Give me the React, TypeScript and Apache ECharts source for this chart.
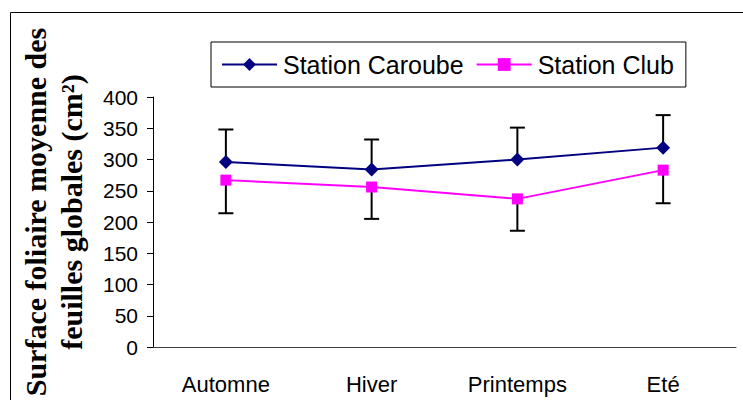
import React, { useEffect, useRef } from "react";
import * as echarts from "echarts";

const categories = ["Automne", "Hiver", "Printemps", "Eté"];
const caroubeName = "Station Caroube";
const clubName = "Station Club";
const caroubeValues = [296, 284, 300, 319];
const caroubeErrUp = [52, 48, 51, 52];
const clubValues = [267, 256, 237, 283];
const clubErrDown = [53, 51, 51, 53];
const yMin = 0;
const yMax = 400;
const yInterval = 50;
const yTitle = "Surface foliaire moyenne des\nfeuilles globales (cm²)";

export default function App() {
  const ref = useRef<HTMLDivElement>(null);
  useEffect(() => {
    const chart = echarts.init(ref.current!, null, { renderer: "svg" });
    const errRender = (dir: number) => (_params: any, api: any) => {
      const x = api.value(0);
      const v = api.value(1);
      const e = api.value(2);
      const p0 = api.coord([x, v]);
      const p1 = api.coord([x, v + dir * e]);
      const half = 7.5;
      return {
        type: "group",
        children: [
          { type: "line", shape: { x1: p0[0], y1: p0[1], x2: p1[0], y2: p1[1] }, style: { stroke: "#000", lineWidth: 2 } },
          { type: "line", shape: { x1: p1[0] - half, y1: p1[1], x2: p1[0] + half, y2: p1[1] }, style: { stroke: "#000", lineWidth: 2 } },
        ],
      };
    };
    chart.setOption({
      animation: false,
      backgroundColor: "#fff",
      graphic: [
        {
          type: "rect",
          silent: true,
          z: -10,
          shape: { x: 10.5, y: 12.5, width: 800, height: 500 },
          style: { fill: "none", stroke: "#000", lineWidth: 1 },
        },
        {
          type: "text",
          silent: true,
          x: 53,
          y: 212,
          rotation: Math.PI / 2,
          style: {
            text: yTitle,
            fontFamily: "Liberation Serif, Times New Roman",
            fontWeight: "bold",
            fontSize: 30,
            lineHeight: 36,
            fill: "#000",
            align: "center",
            verticalAlign: "middle",
          },
        },
      ],
      legend: {
        data: [caroubeName, clubName],
        left: 211,
        top: 42,
        padding: [10, 12, 10, 10],
        itemGap: 12,
        itemWidth: 55,
        itemHeight: 16,
        backgroundColor: "#fff",
        borderColor: "#000",
        borderWidth: 1,
        textStyle: { fontFamily: "Liberation Sans, Arial", fontSize: 25, color: "#000", padding: [0, 0, 0, 1] },
      },
      grid: { left: 153, right: 7, top: 97, bottom: 53, containLabel: false, outerBoundsMode: "none" },
      xAxis: {
        type: "category",
        data: categories,
        axisLine: { lineStyle: { color: "#404040", width: 1 } },
        axisTick: { length: 7, lineStyle: { color: "#404040" } },
        axisLabel: { fontFamily: "Liberation Sans, Arial", fontSize: 22, color: "#000", margin: 26 },
        splitLine: { show: false },
      },
      yAxis: {
        type: "value",
        min: yMin,
        max: yMax,
        interval: yInterval,
        axisLine: { show: true, lineStyle: { color: "#000", width: 1 } },
        axisTick: { show: true, length: 6, lineStyle: { color: "#000" } },
        axisLabel: { fontFamily: "Liberation Sans, Arial", fontSize: 21, color: "#000", margin: 15 },
        splitLine: { show: false },
      },
      series: [
        {
          name: "Erreur Caroube",
          type: "custom",
          z: 1,
          renderItem: errRender(1),
          data: caroubeValues.map((v, i) => [i, v, caroubeErrUp[i]]),
        },
        {
          name: "Erreur Club",
          type: "custom",
          z: 1,
          renderItem: errRender(-1),
          data: clubValues.map((v, i) => [i, v, clubErrDown[i]]),
        },
        {
          name: caroubeName,
          type: "line",
          z: 3,
          data: caroubeValues,
          symbol: "diamond",
          symbolSize: 14,
          lineStyle: { color: "#000080", width: 2 },
          itemStyle: { color: "#000080" },
        },
        {
          name: clubName,
          type: "line",
          z: 3,
          data: clubValues,
          symbol: "rect",
          symbolSize: 11,
          lineStyle: { color: "#FF00FF", width: 2 },
          itemStyle: { color: "#FF00FF" },
        },
      ],
    });
    return () => chart.dispose();
  }, []);
  return (
    <div
      ref={ref}
      style={{ position: "fixed", left: 0, top: 0, width: 743, height: 400, background: "#fff" }}
    />
  );
}
